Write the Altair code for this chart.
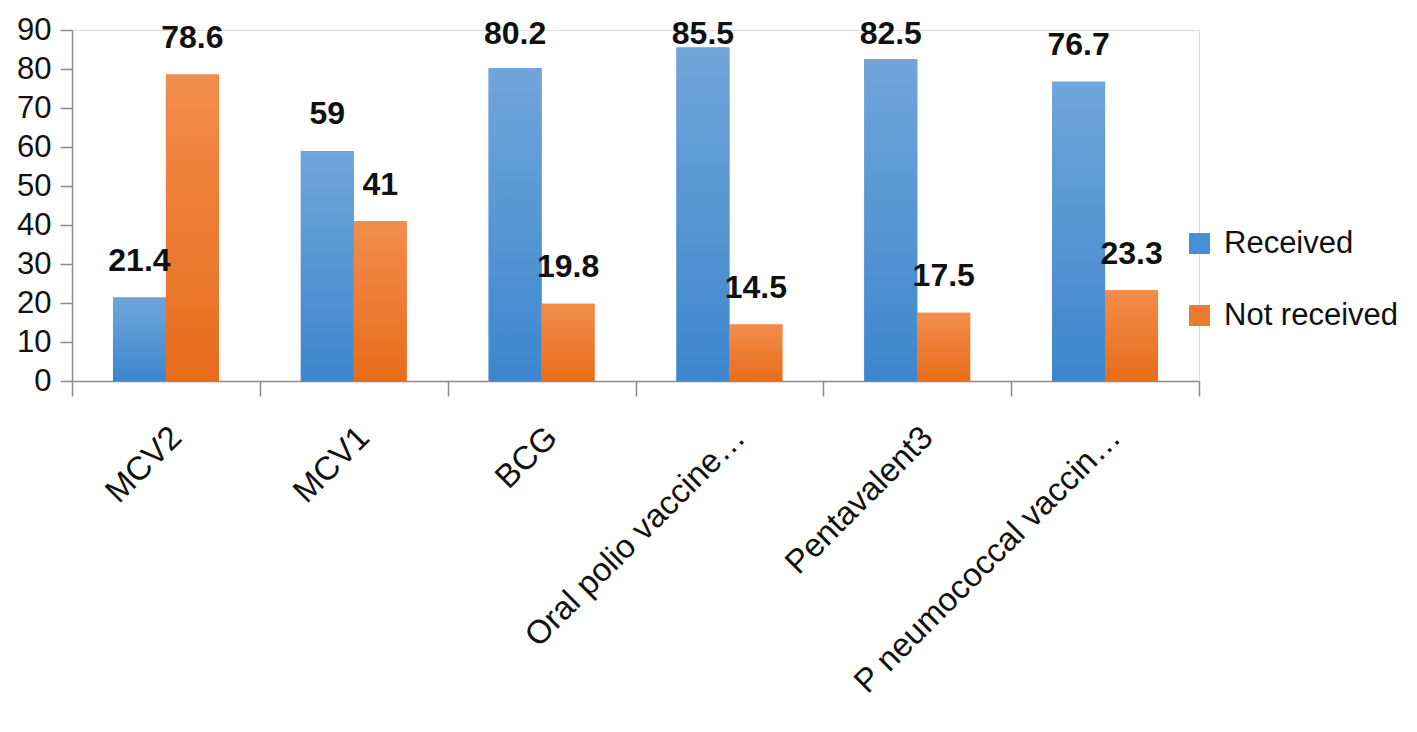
import altair as alt
import pandas as pd

categories = ["MCV2", "MCV1", "BCG", "Oral polio vaccine…", "Pentavalent3", "P neumococcal vaccin…"]
received = [21.4, 59, 80.2, 85.5, 82.5, 76.7]
not_received = [78.6, 41, 19.8, 14.5, 17.5, 23.3]
series = ["Received", "Not received"]
y_ticks = [0, 10, 20, 30, 40, 50, 60, 70, 80, 90]

rows = []
for c, r, n in zip(categories, received, not_received):
    rows.append({"cat": c, "series": series[0], "value": r})
    rows.append({"cat": c, "series": series[1], "value": n})
df = pd.DataFrame(rows)

FONT = "Liberation Sans"

x_enc = alt.X(
    "cat:N",
    sort=categories,
    scale=alt.Scale(paddingInner=0, paddingOuter=0),
    axis=alt.Axis(
        title=None,
        labelAngle=-45,
        labelAlign="right",
        labelBaseline="middle",
        labelFontSize=33,
        labelFont=FONT,
        labelColor="#111111",
        labelPadding=36,
        labelOffset=10,
        labelLimit=500,
        tickBand="extent",
        tickSize=15,
        tickColor="#8a8a8a",
        domainColor="#8a8a8a",
        domainWidth=1.5,
        tickWidth=1.5,
    ),
)
xo_enc = alt.XOffset(
    "series:N", sort=series,
    scale=alt.Scale(domain=series, paddingInner=0, paddingOuter=0.774),
)
y_axis = alt.Axis(
    title=None,
    values=y_ticks,
    grid=False,
    labelOverlap=False,
    labelFontSize=31,
    labelFont=FONT,
    labelColor="#111111",
    labelPadding=9,
    tickSize=12,
    tickColor="#8a8a8a",
    domainColor="#8a8a8a",
    domainWidth=1.5,
    tickWidth=1.5,
)
y_scale = alt.Scale(domain=[0, 90], nice=False)
y_enc = alt.Y("value:Q", scale=y_scale, axis=y_axis)

base = alt.Chart(df)

legend_layer = base.mark_bar().encode(
    x=x_enc,
    xOffset=xo_enc,
    y=y_enc,
    color=alt.Color(
        "series:N",
        sort=series,
        scale=alt.Scale(domain=series, range=["#4a8fd3", "#ec7a30"]),
        legend=alt.Legend(
            title=None,
            orient="none",
            legendX=1112,
            legendY=198,
            symbolType="square",
            symbolSize=441,
            symbolStrokeWidth=0,
            labelFontSize=31,
            labelFont=FONT,
            labelColor="#111111",
            labelOffset=9,
            labelLimit=400,
            rowPadding=40,
            padding=0,
        ),
    ),
)

blue_grad = alt.Gradient(
    gradient="linear", x1=0, y1=0, x2=0, y2=1,
    stops=[alt.GradientStop(offset=0, color="#70a6da"), alt.GradientStop(offset=1, color="#3d86cc")],
)
orange_grad = alt.Gradient(
    gradient="linear", x1=0, y1=0, x2=0, y2=1,
    stops=[alt.GradientStop(offset=0, color="#f28d4c"), alt.GradientStop(offset=1, color="#e86c1b")],
)

blue_layer = base.transform_filter(alt.datum.series == series[0]).mark_bar(color=blue_grad).encode(
    x=x_enc, xOffset=xo_enc, y=y_enc
)
orange_layer = base.transform_filter(alt.datum.series == series[1]).mark_bar(color=orange_grad).encode(
    x=x_enc, xOffset=xo_enc, y=y_enc
)

# data labels sit a little above each bar, but stay inside the top of the plot
text_layer = (
    base.transform_calculate(label_y="min(datum.value + 6.8, 86.4)")
    .mark_text(font=FONT, fontSize=32, fontWeight="bold", color="#111111",
               baseline="alphabetic", align="center")
    .encode(
        x=x_enc,
        xOffset=xo_enc,
        y=alt.Y("label_y:Q", scale=y_scale, axis=y_axis),
        text=alt.Text("value:Q"),
    )
)

chart = (
    alt.layer(legend_layer, blue_layer, orange_layer, text_layer)
    .properties(
        width=1127,
        height=351,
        autosize=alt.AutoSizeParams(type="none"),
        padding={"left": 64, "top": 22, "right": 209, "bottom": 330},
    )
    .configure_view(stroke="transparent", strokeWidth=0)
    .configure(background="white")
)

chart.save("out.html", embed_options={"renderer": "svg", "actions": False})
